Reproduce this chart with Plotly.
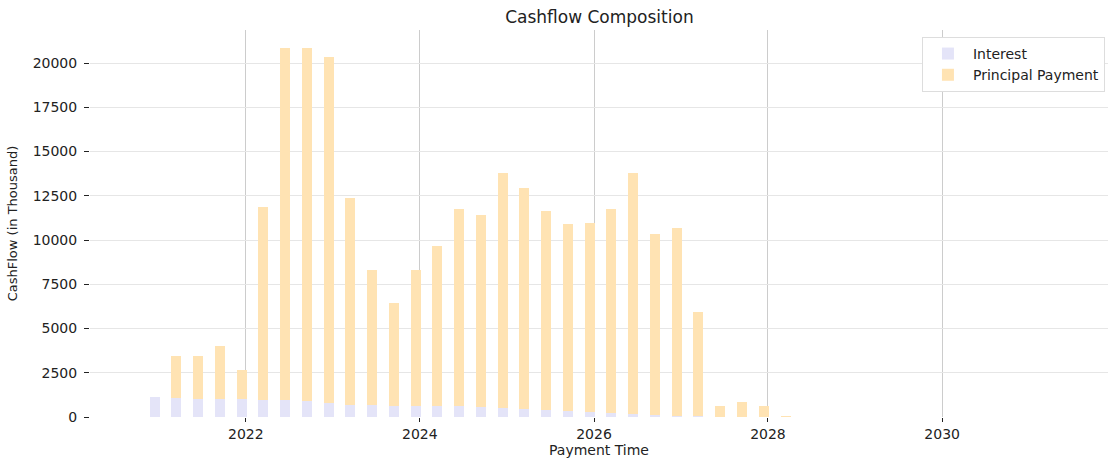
import plotly.graph_objects as go

dates = ["2020-12-15", "2021-03-15", "2021-06-15", "2021-09-15", "2021-12-15",
         "2022-03-15", "2022-06-15", "2022-09-15", "2022-12-15",
         "2023-03-15", "2023-06-15", "2023-09-15", "2023-12-15",
         "2024-03-15", "2024-06-15", "2024-09-15", "2024-12-15",
         "2025-03-15", "2025-06-15", "2025-09-15", "2025-12-15",
         "2026-03-15", "2026-06-15", "2026-09-15", "2026-12-15",
         "2027-03-15", "2027-06-15", "2027-09-15", "2027-12-15",
         "2028-03-15"]

interest = [1110, 1090, 1035, 1035, 1035,
            980, 980, 905, 810,
            700, 700, 640, 640,
            640, 630, 565, 525,
            470, 415, 360, 300,
            245, 190, 110, 75,
            30, 0, 0, 0,
            0]

total = [1110, 3450, 3450, 4010, 2640,
         11860, 20840, 20840, 20320,
         12380, 8310, 6440, 8310,
         9680, 11740, 11410, 13790,
         12940, 11630, 10890, 10960,
         11740, 13790, 10320, 10660,
         5930, 600, 830, 600,
         40]

principal = [t - i for t, i in zip(total, interest)]

bar_width_ms = 42 * 86400000

fig = go.Figure()
fig.add_trace(go.Bar(x=dates, y=interest, name="Interest",
                     marker=dict(color="#E4E4F8", line=dict(width=0)),
                     width=bar_width_ms))
fig.add_trace(go.Bar(x=dates, y=principal, name="Principal Payment",
                     marker=dict(color="#FFE3B3", line=dict(width=0)),
                     width=bar_width_ms))

font = "DejaVu Sans"
fig.update_layout(
    barmode="stack",
    width=1108, height=465,
    margin=dict(l=90, r=0, t=30, b=48),
    paper_bgcolor="white", plot_bgcolor="white",
    font=dict(family=font, size=14, color="#222"),
    title=dict(text="Cashflow Composition", x=0.541, xanchor="center",
               y=0.963, yanchor="middle", font=dict(size=17, color="#222")),
    legend=dict(x=0.997, y=0.982, xanchor="right", yanchor="top",
                bordercolor="#dddddd", borderwidth=1, bgcolor="white",
                font=dict(size=14), traceorder="normal", tracegroupgap=0,
                itemwidth=40),
    showlegend=True,
)
fig.update_xaxes(
    type="date",
    range=["2020-03-18", "2031-11-28"],
    tickvals=["2022-01-01", "2024-01-01", "2026-01-01", "2028-01-01", "2030-01-01"],
    ticktext=["2022", "2024", "2026", "2028", "2030"],
    showgrid=True, gridcolor="#cccccc", gridwidth=1.2,
    ticks="outside", ticklen=4, tickcolor="#222",
    showline=False, zeroline=False,
    tickfont=dict(size=14),
    title=dict(text="Payment Time", font=dict(size=14), standoff=2),
)
fig.update_yaxes(
    range=[0, 21870],
    tickvals=[0, 2500, 5000, 7500, 10000, 12500, 15000, 17500, 20000],
    tickformat="d",
    showgrid=True, gridcolor="#e6e6e6", gridwidth=1.2,
    ticks="outside", ticklen=5, tickcolor="#222",
    ticklabelstandoff=4,
    showline=False, zeroline=False,
    tickfont=dict(size=14),
    title=dict(text="CashFlow (in Thousand)", font=dict(size=13), standoff=12),
)

fig.write_html("out.html", config={"displayModeBar": False},
               post_script="document.body.style.margin='0px';")
